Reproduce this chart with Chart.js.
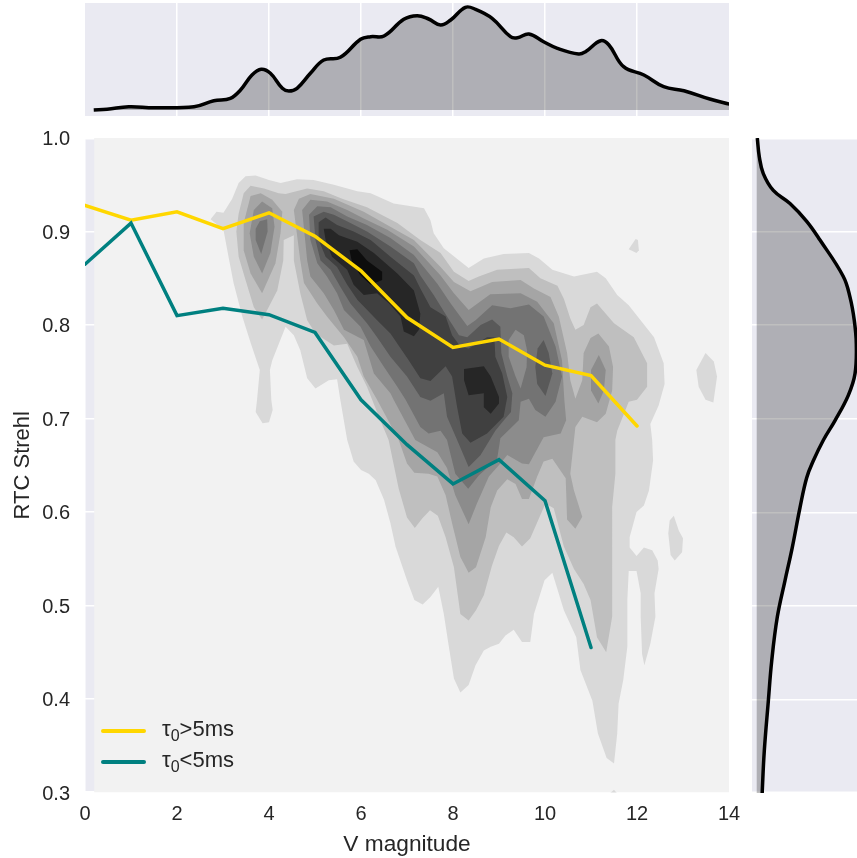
<!DOCTYPE html>
<html>
<head>
<meta charset="utf-8">
<title>RTC Strehl vs V magnitude</title>
<script src="https://cdn.jsdelivr.net/npm/chart.js@4"></script>
<style>
  body { margin: 0; background: #fff; font-family: "Liberation Sans", Arial, sans-serif; color: #262626; }
  canvas { position: absolute; display: block; }
  .key { position: absolute; left: 101px; width: 45px; height: 3.5px; border-radius: 2px; }
  .keytext { position: absolute; left: 162px; font-size: 22px; line-height: 22px; white-space: nowrap; }
  .keytext sub { font-size: 16px; line-height: 0; }
</style>
</head>
<body>
<canvas id="main" width="857" height="858" style="left:0;top:0"></canvas>
<canvas id="top" width="644" height="113" style="left:85px;top:3px"></canvas>
<canvas id="side" width="105" height="655" style="left:752px;top:138px"></canvas>
<div class="key" style="top:729px;background:#ffd700"></div>
<div class="keytext" style="top:718px">τ<sub>0</sub>&gt;5ms</div>
<div class="key" style="top:760px;background:#008080"></div>
<div class="keytext" style="top:749px">τ<sub>0</sub>&lt;5ms</div>
<script>
// ===== Data =====
const xTicks = [0, 2, 4, 6, 8, 10, 12, 14];
const yTicks = [0.3, 0.4, 0.5, 0.6, 0.7, 0.8, 0.9, 1.0];
const xLabel = 'V magnitude';
const yLabel = 'RTC Strehl';

const vmagBins = [0, 1, 2, 3, 4, 5, 6, 7, 8, 9, 10, 11, 12];
const strehlSlow = [0.928, 0.912, 0.921, 0.903, 0.920, 0.895, 0.858, 0.808, 0.776, 0.785, 0.757, 0.746, 0.692];
const strehlFast = [0.865, 0.909, 0.810, 0.818, 0.811, 0.792, 0.720, 0.672, 0.630, 0.656, 0.612, 0.455];

// marginal densities
const topKde = [[0.19,0],[0.48,0.007],[0.95,0.033],[1.5,0.023],[2.37,0.033],[2.8,0.093],[3.16,0.117],[3.38,0.2],[3.63,0.35],[3.83,0.407],[4.03,0.367],[4.29,0.217],[4.43,0.19],[4.61,0.217],[4.9,0.367],[5.19,0.5],[5.55,0.527],[5.99,0.707],[6.21,0.733],[6.5,0.74],[6.93,0.907],[7.22,0.943],[7.47,0.91],[7.73,0.85],[7.95,0.9],[8.27,1.027],[8.49,1.007],[8.85,0.917],[9.25,0.733],[9.4,0.723],[9.65,0.76],[9.97,0.683],[10.27,0.617],[10.73,0.56],[10.88,0.583],[11.21,0.693],[11.39,0.65],[11.71,0.433],[12.15,0.35],[12.58,0.233],[13.02,0.193],[13.6,0.107],[14.02,0.057]];
const sideKde = [[0.006,1.0],[0.026,0.98],[0.066,0.962],[0.166,0.944],[0.333,0.93],[0.5,0.911],[0.633,0.891],[0.866,0.852],[0.933,0.83],[0.976,0.805],[0.996,0.78],[0.983,0.748],[0.916,0.725],[0.783,0.698],[0.666,0.677],[0.566,0.655],[0.5,0.637],[0.433,0.605],[0.355,0.562],[0.283,0.527],[0.206,0.488],[0.15,0.441],[0.116,0.398],[0.076,0.345],[0.056,0.303],[0.054,0.295]];

// filled density contours, [V magnitude, Strehl], lightest first
const kdeBase = [[0.2,0.3],[0.2,1],[14,1],[14,0.3]];
const level1 = [[2.73,0.913],[2.86,0.921],[3.01,0.92],[3.2,0.935],[3.34,0.952],[3.49,0.959],[3.71,0.96],[4,0.955],[4.25,0.952],[4.61,0.956],[4.97,0.955],[5.41,0.95],[5.92,0.943],[6.21,0.941],[6.71,0.93],[7.37,0.925],[7.51,0.912],[7.58,0.898],[7.8,0.882],[8.34,0.861],[8.67,0.871],[9.1,0.876],[9.65,0.877],[9.87,0.871],[10.16,0.859],[10.63,0.852],[11.13,0.857],[11.32,0.85],[11.57,0.832],[11.82,0.821],[12.37,0.787],[12.58,0.759],[12.6,0.737],[12.47,0.714],[12.29,0.694],[12.33,0.677],[12.35,0.655],[12.26,0.623],[12.15,0.607],[11.99,0.6],[11.84,0.573],[11.84,0.562],[11.99,0.553],[12.15,0.562],[12.33,0.559],[12.45,0.548],[12.47,0.539],[12.38,0.513],[12.4,0.488],[12.29,0.459],[12.16,0.436],[12.11,0.448],[12.08,0.488],[12.08,0.513],[11.99,0.537],[11.82,0.537],[11.79,0.506],[11.79,0.456],[11.7,0.42],[11.6,0.395],[11.57,0.363],[11.5,0.331],[11.34,0.337],[11.15,0.363],[11.03,0.398],[10.77,0.431],[10.68,0.466],[10.41,0.495],[10.16,0.535],[9.99,0.527],[9.76,0.491],[9.68,0.461],[9.5,0.461],[9.32,0.474],[9.14,0.468],[9,0.459],[8.82,0.456],[8.67,0.452],[8.49,0.436],[8.34,0.415],[8.16,0.407],[8.02,0.422],[7.91,0.456],[7.8,0.491],[7.68,0.52],[7.51,0.509],[7.34,0.501],[7.16,0.506],[7,0.527],[6.75,0.563],[6.64,0.588],[6.5,0.613],[6.32,0.634],[6.17,0.641],[6,0.645],[5.84,0.654],[5.7,0.677],[5.55,0.72],[5.48,0.742],[5.3,0.741],[5.01,0.732],[4.83,0.743],[4.68,0.773],[4.54,0.789],[4.36,0.798],[4.07,0.762],[4.02,0.752],[4.05,0.72],[4.08,0.709],[4,0.696],[3.86,0.695],[3.71,0.707],[3.74,0.72],[3.8,0.752],[3.6,0.781],[3.42,0.809],[3.23,0.845],[3.12,0.873],[3.01,0.902]];
const level1IslandA = [[11.82,0.881],[11.97,0.892],[12.02,0.891],[12.04,0.88],[11.99,0.877]];
const level1IslandB = [[13.49,0.77],[13.67,0.761],[13.74,0.745],[13.66,0.717],[13.49,0.72],[13.34,0.734],[13.29,0.752]];
const level1IslandC = [[12.8,0.596],[12.91,0.58],[13,0.572],[12.98,0.557],[12.82,0.548],[12.73,0.554],[12.68,0.577],[12.71,0.591]];
const level1IslandD = [[11.5,0.303],[11.57,0.299],[11.41,0.299]];
const level2 = [[3.29,0.9],[3.34,0.919],[3.45,0.941],[3.6,0.949],[3.89,0.946],[4.21,0.941],[4.36,0.94],[4.83,0.946],[5.19,0.943],[5.59,0.935],[6.13,0.926],[6.79,0.909],[7.29,0.891],[7.73,0.877],[8.02,0.857],[8.34,0.847],[8.56,0.852],[8.96,0.859],[9.65,0.861],[9.9,0.85],[10.27,0.842],[10.41,0.828],[10.55,0.807],[10.66,0.795],[10.84,0.8],[10.99,0.819],[11.13,0.823],[11.5,0.802],[11.93,0.787],[12.22,0.759],[12.22,0.734],[12,0.72],[11.82,0.718],[11.57,0.687],[11.53,0.677],[11.53,0.641],[11.46,0.605],[11.46,0.488],[11.33,0.45],[11.13,0.466],[10.99,0.506],[10.84,0.523],[10.63,0.539],[10.41,0.563],[10.19,0.604],[10.01,0.609],[9.68,0.572],[9.5,0.563],[9.32,0.573],[9.16,0.578],[9,0.564],[8.85,0.543],[8.67,0.511],[8.5,0.495],[8.34,0.484],[8.16,0.491],[8.02,0.541],[7.84,0.573],[7.67,0.596],[7.5,0.602],[7.33,0.593],[7.17,0.583],[7,0.594],[6.82,0.625],[6.6,0.677],[6.42,0.698],[6.13,0.734],[5.92,0.755],[5.7,0.78],[5.41,0.778],[5.01,0.791],[4.83,0.805],[4.68,0.834],[4.54,0.869],[4.54,0.896],[4.32,0.891],[4.31,0.869],[4.18,0.837],[3.96,0.816],[3.85,0.806],[3.67,0.819],[3.49,0.848],[3.34,0.873]];
const level3Left = [[3.45,0.909],[3.6,0.938],[3.82,0.941],[4.07,0.934],[4.29,0.921],[4.25,0.898],[4.14,0.866],[3.85,0.834],[3.6,0.855],[3.45,0.88]];
const level3 = [[4.54,0.923],[4.65,0.935],[4.9,0.94],[5.41,0.935],[6.06,0.921],[6.57,0.907],[7.15,0.891],[7.73,0.862],[8.02,0.846],[8.38,0.836],[8.85,0.846],[9.47,0.848],[9.76,0.839],[10.12,0.83],[10.3,0.809],[10.48,0.77],[10.55,0.741],[10.66,0.721],[10.81,0.741],[10.84,0.77],[10.99,0.786],[11.16,0.791],[11.39,0.777],[11.48,0.755],[11.46,0.73],[11.32,0.705],[11.13,0.696],[10.81,0.702],[10.66,0.691],[10.63,0.677],[10.55,0.641],[10.63,0.623],[10.81,0.595],[10.66,0.582],[10.48,0.592],[10.45,0.636],[10.16,0.657],[9.97,0.654],[9.83,0.638],[9.65,0.614],[9.5,0.614],[9.36,0.63],[9.18,0.635],[8.96,0.623],[8.82,0.605],[8.71,0.573],[8.5,0.541],[8.34,0.535],[8.16,0.552],[7.98,0.588],[7.84,0.618],[7.66,0.638],[7.47,0.641],[7.16,0.642],[7,0.652],[6.82,0.677],[6.35,0.72],[6.06,0.745],[5.92,0.766],[5.63,0.787],[5.26,0.809],[5.05,0.823],[4.76,0.845],[4.68,0.869]];
const level4Left = [[3.85,0.932],[4.07,0.925],[4.12,0.905],[4.03,0.877],[3.85,0.855],[3.67,0.873],[3.58,0.898],[3.67,0.923]];
const level4 = [[4.72,0.923],[4.9,0.934],[5.26,0.932],[5.7,0.923],[6.06,0.914],[6.57,0.902],[7.15,0.884],[7.73,0.853],[8.02,0.834],[8.34,0.816],[8.81,0.833],[9.47,0.834],[9.83,0.825],[10.19,0.802],[10.37,0.762],[10.42,0.72],[10.46,0.698],[10.34,0.684],[9.97,0.68],[9.65,0.651],[9.5,0.652],[9.18,0.661],[9.03,0.652],[8.78,0.638],[8.52,0.609],[8.34,0.587],[8.05,0.618],[7.87,0.647],[7.66,0.664],[7.18,0.677],[6.71,0.72],[6.64,0.727],[6.28,0.748],[6.06,0.784],[5.63,0.795],[5.41,0.816],[5.19,0.834],[4.9,0.852],[4.83,0.869]];
const level4Right = [[11.17,0.768],[11.32,0.752],[11.28,0.73],[11.16,0.716],[11,0.73],[11,0.752]];
const level5Left = [[3.8,0.911],[3.96,0.913],[3.97,0.9],[3.83,0.876],[3.71,0.891],[3.71,0.903]];
const level5 = [[4.87,0.918],[5.05,0.927],[5.34,0.926],[5.7,0.916],[6.13,0.907],[6.64,0.893],[7.15,0.875],[7.66,0.844],[7.95,0.823],[8.31,0.799],[8.49,0.805],[8.85,0.821],[9.25,0.818],[9.65,0.822],[9.97,0.809],[10.23,0.777],[10.37,0.745],[10.23,0.718],[10.01,0.702],[9.79,0.709],[9.65,0.721],[9.47,0.718],[9.43,0.698],[9.03,0.679],[8.96,0.657],[8.56,0.639],[8.33,0.625],[8.05,0.641],[7.87,0.677],[7.73,0.687],[7.47,0.684],[7.29,0.691],[6.97,0.72],[6.79,0.734],[6.5,0.755],[6.21,0.777],[5.99,0.798],[5.63,0.816],[5.48,0.834],[5.26,0.852],[5.05,0.866],[4.9,0.891]];
const level4Hole = [[9.36,0.795],[9.54,0.789],[9.61,0.773],[9.6,0.755],[9.47,0.732],[9.36,0.745],[9.21,0.766],[9.21,0.784]];
const level6 = [[4.97,0.916],[5.19,0.921],[5.41,0.918],[5.77,0.909],[6.13,0.9],[6.64,0.884],[7.15,0.866],[7.29,0.853],[7.58,0.832],[7.87,0.809],[8.13,0.789],[8.31,0.787],[8.6,0.8],[8.85,0.806],[9.03,0.798],[9.05,0.77],[9.18,0.745],[9.29,0.727],[9.26,0.707],[9.07,0.696],[8.92,0.687],[8.6,0.661],[8.34,0.648],[8.09,0.677],[7.87,0.702],[7.8,0.727],[7.51,0.719],[7.29,0.723],[7,0.745],[6.64,0.766],[6.35,0.787],[6.13,0.802],[5.77,0.823],[5.55,0.841],[5.34,0.859],[5.12,0.869],[5.01,0.891]];
const level6Right = [[9.97,0.784],[10.08,0.77],[10.16,0.748],[10.01,0.724],[9.83,0.737],[9.79,0.755],[9.84,0.775]];
const level7 = [[5.08,0.91],[5.23,0.915],[5.48,0.907],[5.84,0.9],[6.21,0.891],[6.64,0.873],[7.15,0.853],[7.29,0.839],[7.51,0.819],[7.84,0.809],[7.98,0.789],[8.16,0.777],[8.34,0.775],[8.74,0.787],[8.9,0.787],[8.92,0.766],[9.07,0.748],[9.18,0.723],[9.1,0.702],[8.74,0.684],[8.38,0.674],[8.2,0.684],[8.09,0.712],[7.98,0.745],[7.84,0.756],[7.51,0.74],[7.29,0.743],[7.04,0.762],[6.64,0.791],[6.35,0.805],[5.92,0.827],[5.7,0.843],[5.48,0.862],[5.23,0.873],[5.08,0.891]];
const level8 = [[5.19,0.903],[5.34,0.903],[5.52,0.896],[5.92,0.889],[6.28,0.877],[6.79,0.855],[7.15,0.837],[7.29,0.812],[7.26,0.795],[7.15,0.788],[6.93,0.793],[6.86,0.809],[6.61,0.823],[6.35,0.834],[6.06,0.832],[5.84,0.843],[5.7,0.859],[5.37,0.873],[5.23,0.891]];
const level8Right = [[8.24,0.753],[8.67,0.756],[8.82,0.745],[9,0.723],[9,0.716],[8.82,0.705],[8.67,0.712],[8.67,0.727],[8.34,0.725],[8.24,0.741]];
const level9 = [[5.75,0.88],[5.92,0.881],[6.13,0.869],[6.46,0.857],[6.46,0.848],[6.21,0.843],[5.99,0.853],[5.81,0.866]];

// ===== Helpers =====
const toPoints = pairs => pairs.map(p => ({ x: p[0], y: p[1] }));

const contour = (pairs, color) => ({
  data: toPoints(pairs.concat([pairs[0]])),
  showLine: true,
  borderWidth: 0,
  pointRadius: 0,
  tension: 0,
  backgroundColor: color,
  fill: 'shape',
});

const trend = (values, color) => ({
  data: values.map((y, i) => ({ x: vmagBins[i], y })),
  showLine: true,
  borderColor: color,
  borderWidth: 3.5,
  borderCapStyle: 'round',
  borderJoinStyle: 'miter',
  pointRadius: 0,
  tension: 0,
  fill: false,
});

const kdeCurve = pairs => ({
  data: toPoints(pairs),
  showLine: true,
  borderColor: '#000',
  borderWidth: 3.5,
  pointRadius: 0,
  tension: 0.4,
  fill: false,
});

// panel background, a little short of the canvas edge like the original
const panelBg = {
  id: 'panelBg',
  beforeDraw(chart, args, opts) {
    const { ctx, chartArea: a } = chart;
    ctx.save();
    ctx.fillStyle = '#eaeaf2';
    ctx.fillRect(a.left, a.top + opts.inset, a.width, a.height - 2 * opts.inset);
    ctx.restore();
  },
};

const hiddenAxis = (min, max, ticks) => ({
  type: 'linear',
  min,
  max,
  border: { display: false },
  grid: ticks ? { color: '#fff', lineWidth: 1.5, drawTicks: false } : { display: false },
  ticks: { display: false },
  afterBuildTicks: s => { if (ticks) s.ticks = ticks.map(value => ({ value })); },
  afterFit: s => { if (s.isHorizontal()) s.height = 0; else s.width = 0; },
});

const baseOptions = {
  responsive: false,
  animation: false,
  events: [],
  layout: { padding: 0 },
  plugins: { legend: { display: false }, tooltip: { enabled: false } },
};

// ===== Main joint plot =====
new Chart(document.getElementById('main'), {
  type: 'scatter',
  plugins: [panelBg],
  data: {
    datasets: [
      trend(strehlFast, '#008080'),
      trend(strehlSlow, '#ffd700'),
      contour(level9, '#0d0d0d'),
      contour(level8Right, '#262626'),
      contour(level8, '#262626'),
      contour(level7, '#404040'),
      contour(level6Right, '#595959'),
      contour(level4Hole, '#8c8c8c'),
      contour(level6, '#595959'),
      contour(level5, '#737373'),
      contour(level5Left, '#737373'),
      contour(level4Right, '#8c8c8c'),
      contour(level4Left, '#8c8c8c'),
      contour(level4, '#8c8c8c'),
      contour(level3Left, '#a5a5a5'),
      contour(level3, '#a5a5a5'),
      contour(level2, '#bfbfbf'),
      contour(level1IslandD, '#d9d9d9'),
      contour(level1IslandC, '#d9d9d9'),
      contour(level1IslandB, '#d9d9d9'),
      contour(level1IslandA, '#d9d9d9'),
      contour(level1, '#d9d9d9'),
      contour(kdeBase, '#f2f2f2'),
    ],
  },
  options: {
    ...baseOptions,
    layout: { padding: { top: 138, right: 128, left: 0, bottom: 0 } },
    plugins: { ...baseOptions.plugins, panelBg: { inset: 1.5 } },
    scales: {
      x: {
        type: 'linear',
        min: 0,
        max: 14,
        border: { display: false },
        grid: { color: '#fff', lineWidth: 1.5, drawTicks: false },
        afterBuildTicks: s => { s.ticks = xTicks.map(value => ({ value })); },
        afterFit: s => { s.height = 65.5; },
        ticks: {
          padding: 10,
          autoSkip: false,
          maxRotation: 0,
          color: '#262626',
          font: { family: '"Liberation Sans"', size: 20 },
          callback: v => String(v),
        },
        title: {
          display: true,
          text: xLabel,
          color: '#262626',
          font: { family: '"Liberation Sans"', size: 22.7 },
          padding: { top: 3, bottom: 0 },
        },
      },
      y: {
        type: 'linear',
        min: 0.3,
        max: 1.0,
        border: { display: false },
        grid: { color: '#fff', lineWidth: 1.5, drawTicks: false },
        afterBuildTicks: s => { s.ticks = yTicks.map(value => ({ value })); },
        afterFit: s => { s.width = 85; },
        ticks: {
          padding: 15,
          labelOffset: 1.5,
          autoSkip: false,
          color: '#262626',
          font: { family: '"Liberation Sans"', size: 20 },
          callback: v => v.toFixed(1),
        },
        title: {
          display: true,
          text: yLabel,
          color: '#262626',
          font: { family: '"Liberation Sans"', size: 22 },
          padding: { top: 10, bottom: 0 },
        },
      },
    },
  },
});

// ===== Top marginal =====
new Chart(document.getElementById('top'), {
  type: 'scatter',
  plugins: [panelBg],
  data: {
    datasets: [
      kdeCurve(topKde),
      contour(topKde.concat([[14.02, 0], [0.19, 0]]), 'rgba(0,0,0,0.25)'),
    ],
  },
  options: {
    ...baseOptions,
    plugins: { ...baseOptions.plugins, panelBg: { inset: 0 } },
    scales: { x: hiddenAxis(0, 14, xTicks.slice(1, -1)), y: hiddenAxis(-0.06, 1.07) },
  },
});

// ===== Right marginal =====
new Chart(document.getElementById('side'), {
  type: 'scatter',
  plugins: [panelBg],
  data: {
    datasets: [
      kdeCurve(sideKde),
      contour(sideKde.concat([[0, 0.295], [0, 1.0]]), 'rgba(0,0,0,0.25)'),
    ],
  },
  options: {
    ...baseOptions,
    plugins: { ...baseOptions.plugins, panelBg: { inset: 1.5 } },
    scales: { x: hiddenAxis(-0.047, 1.003), y: hiddenAxis(0.3, 1.0, yTicks.slice(1, -1)) },
  },
});
</script>
</body>
</html>
